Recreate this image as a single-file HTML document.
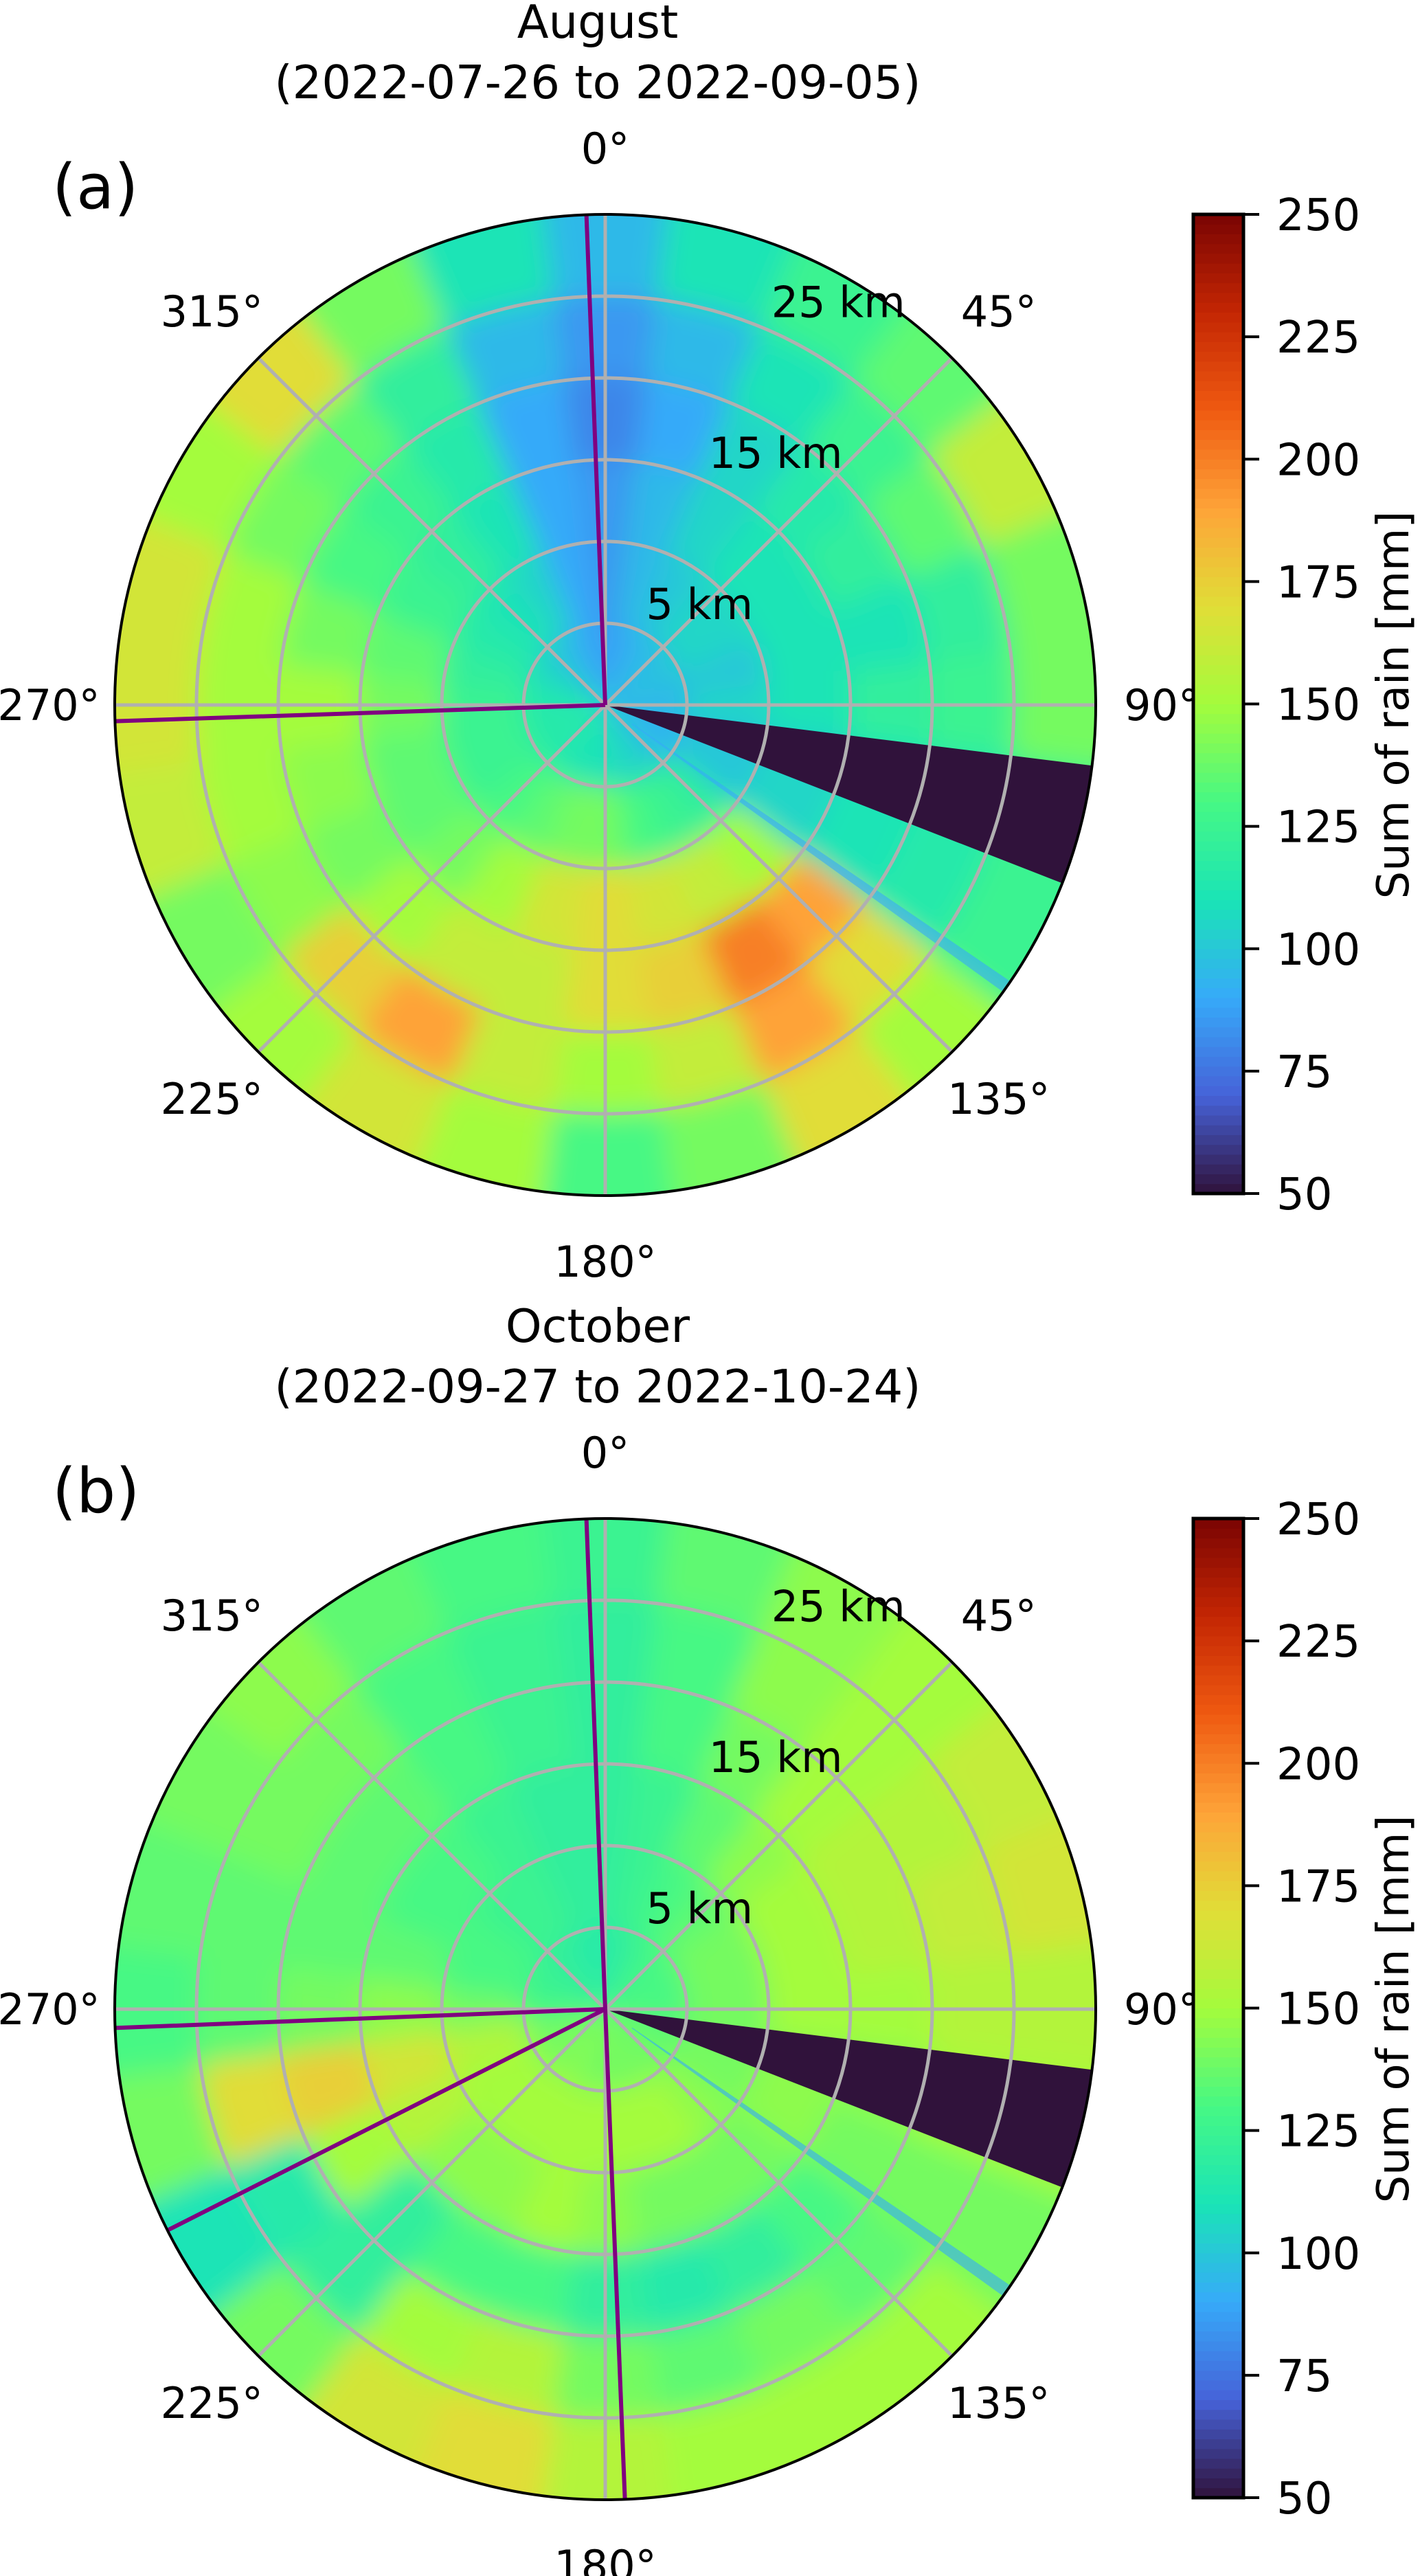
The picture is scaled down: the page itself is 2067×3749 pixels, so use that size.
<!DOCTYPE html>
<html><head><meta charset="utf-8"><style>
html,body{margin:0;padding:0;background:#fff;}
svg{display:block;font-family:"DejaVu Sans","Liberation Sans",sans-serif;}
</style></head><body>
<svg id="fig" width="2067" height="3749" viewBox="0 0 2067 3749" xmlns="http://www.w3.org/2000/svg">
<defs>
<filter id="blur" x="-10%" y="-10%" width="120%" height="120%"><feGaussianBlur stdDeviation="20"/></filter>
<clipPath id="clipA"><circle cx="881" cy="1026" r="714"/></clipPath>
<clipPath id="clipB"><circle cx="881" cy="2924" r="714"/></clipPath>
</defs>
</svg>
<script>
// ---- data ----
const sectorAzimuths = [0,15,30,45,60,75,90,105,120,135,150,165,180,195,210,225,240,255,270,285,300,315,330,345];
const rangeBinsKm = [0,5,10,15,20,25,30];
const rainAugust = [
[85,85,85,80,85,95],[90,95,95,90,95,110],[95,100,105,105,110,125],[95,105,110,115,125,135],
[100,105,110,120,135,160],[95,100,110,110,120,140],[95,105,110,120,125,140],[95,100,105,110,115,125],
[90,100,105,110,115,125],[100,120,150,190,170,150],[105,125,160,200,190,170],[105,130,165,175,160,140],
[110,140,170,170,150,130],[110,140,165,160,160,150],[110,135,150,160,190,165],[115,130,140,150,175,150],
[115,125,135,140,145,140],[115,125,135,145,150,160],[115,125,140,150,150,165],[110,120,135,140,150,165],
[105,115,125,130,140,150],[100,110,120,125,135,170],[95,105,110,115,120,140],[90,90,90,90,95,110]];
const rainOctober = [
[115,120,120,120,120,125],[120,125,125,130,130,135],[125,130,135,140,145,145],[130,135,145,150,150,150],
[130,140,150,155,155,160],[130,140,150,155,160,165],[130,140,150,150,155,155],[135,140,145,145,150,150],
[135,140,145,140,140,140],[140,145,140,130,135,150],[140,150,140,120,140,150],[140,150,140,115,135,150],
[140,150,145,120,140,155],[140,150,150,130,155,170],[145,150,145,130,150,165],[140,150,145,120,120,140],
[140,150,155,150,115,110],[140,155,165,175,170,140],[130,140,145,140,135,130],[125,130,135,135,135,135],
[125,130,130,135,140,140],[120,125,130,135,140,145],[120,125,125,130,130,135],[115,120,120,125,125,130]];
const blockedWedgeAz = [97.1, 111.3];
const blockedValue = 50;
const stripeAz = [124.3, 125.8];
const stripeValue = 90;
const beamLinesAugust = [357.8, 268.1];
const beamLinesOctober = [357.8, 267.8, 243.2, 177.7];
const cbTicks = [50,75,100,125,150,175,200,225,250];
const angleTicks = [0,45,90,135,180,225,270,315];
const ringKm = [5,10,15,20,25];
const rangeLabels = [5,15,25];
const vmin = 50, vmax = 250, maxKm = 30;

// ---- helpers ----
const NS = "http://www.w3.org/2000/svg";
const svg = document.getElementById('fig');
function el(tag, attrs, parent){ const e=document.createElementNS(NS,tag); for(const k in attrs) e.setAttribute(k,attrs[k]); (parent||svg).appendChild(e); return e; }
const TURBO = [[48,18,59],[70,98,216],[54,170,249],[26,228,182],[70,248,132],[164,252,60],[225,221,55],[254,163,56],[239,90,17],[196,38,3],[122,4,3]];
function turbo(v){
  let x=Math.max(0,Math.min(1,(v-vmin)/(vmax-vmin)))*10;
  let i=Math.min(9,Math.floor(x)), f=x-i;
  const a=TURBO[i], b=TURBO[i+1];
  return `rgb(${Math.round(a[0]+(b[0]-a[0])*f)},${Math.round(a[1]+(b[1]-a[1])*f)},${Math.round(a[2]+(b[2]-a[2])*f)})`;
}
const R = 714;
function rScale(km){ return km/maxKm*R; }
function pt(cx,cy,az,r){ const a=az*Math.PI/180; return [cx+r*Math.sin(a), cy-r*Math.cos(a)]; }
function sector(cx,cy,a0,a1,r0,r1){
  const p1=pt(cx,cy,a0,r1),p2=pt(cx,cy,a1,r1),p3=pt(cx,cy,a1,r0),p4=pt(cx,cy,a0,r0);
  const lg=(a1-a0)>180?1:0;
  return `M${p1[0]},${p1[1]} A${r1},${r1} 0 ${lg} 1 ${p2[0]},${p2[1]} L${p3[0]},${p3[1]} A${r0},${r0} 0 ${lg} 0 ${p4[0]},${p4[1]} Z`;
}

function drawPanel(cx, cy, data, beams, clipId, tag, titleLines, letter){
  const g = el('g',{});
  
  
  const t1 = el('text',{x:870,y:cy-971,'font-size':67,'text-anchor':'middle'},g); t1.textContent=titleLines[0];
   
  const t2 = el('text',{x:870,y:cy-883,'font-size':67,'text-anchor':'middle'},g); t2.textContent=titleLines[1];
   
  const lt = el('text',{x:76,y:cy-723,'font-size':90},g); lt.textContent=letter;
   
  const clipG = el('g',{'clip-path':`url(#${clipId})`},g);
  const hm = el('g',{filter:'url(#blur)'},clipG);
   
  const step = 360/sectorAzimuths.length;
  sectorAzimuths.forEach((az,i)=>{
    data[i].forEach((v,j)=>{
      const r0=rScale(rangeBinsKm[j]), r1 = j===data[i].length-1 ? R+60 : rScale(rangeBinsKm[j+1]);
      const p = el('path',{d:sector(cx,cy,az-step/2-0.3,az+step/2+0.3,r0,r1),fill:turbo(v)},hm);
       
    });
  });
  const st = el('path',{d:sector(cx,cy,stripeAz[0],stripeAz[1],rScale(2),R+10),fill:turbo(stripeValue),opacity:0.6},clipG);
   
  const wd = el('path',{d:sector(cx,cy,blockedWedgeAz[0],blockedWedgeAz[1],0.5,R+10),fill:turbo(blockedValue)},clipG);
   
  ringKm.forEach(k=>{
    const c = el('circle',{cx,cy,r:rScale(k),fill:'none',stroke:'#b0b0b0','stroke-width':5},g);
     
  });
  angleTicks.forEach(a=>{
    const p=pt(cx,cy,a,R);
    const l = el('line',{x1:cx,y1:cy,x2:p[0],y2:p[1],stroke:'#b0b0b0','stroke-width':5},g);
     
  });
  beams.forEach(a=>{
    const p=pt(cx,cy,a,R);
    const l = el('line',{x1:cx,y1:cy,x2:p[0],y2:p[1],stroke:'#800080','stroke-width':6},g);
     
  });
  const oc = el('circle',{cx,cy,r:R,fill:'none',stroke:'#000','stroke-width':4},g);
   
  angleTicks.forEach(a=>{
    const p=pt(cx,cy,a,R+96);
    const t=el('text',{x:p[0],y:p[1]+22,'font-size':62,'text-anchor':'middle'},g);
    t.textContent=a+'°';
     
  });
  rangeLabels.forEach(k=>{
    const p=pt(cx,cy,22.5,rScale(k));
    const t=el('text',{x:p[0]+14,y:p[1]-15,'font-size':62,'text-anchor':'start'},g);
    t.textContent=k+' km';
     
  });
  const top=cy-714, bot=cy+711, x0=1737, w=73;
  const cb = el('g',{},g);
   
  const n=100;
  for(let i=0;i<n;i++){
    const v=vmin+(vmax-vmin)*(i+0.5)/n;
    const y=bot-(i+1)*(bot-top)/n;
    el('rect',{x:x0,y:y-0.5,width:w,height:(bot-top)/n+1,fill:turbo(v)},cb);
  }
  el('rect',{x:x0,y:top,width:w,height:bot-top,fill:'none',stroke:'#000','stroke-width':5},cb);
  cbTicks.forEach(v=>{
    const y=bot-(v-vmin)/(vmax-vmin)*(bot-top);
    el('line',{x1:x0+w,y1:y,x2:x0+w+23,y2:y,stroke:'#000','stroke-width':4},cb);
    const t=el('text',{x:1858,y:y+23,'font-size':64},cb);
    t.textContent=v;
     
  });
  const cl=el('text',{x:2050,y:cy,'font-size':64,'text-anchor':'middle',transform:`rotate(-90 2050 ${cy})`},cb);
  cl.textContent='Sum of rain [mm]';
   
}
drawPanel(881,1026,rainAugust,beamLinesAugust,'clipA','a',['August','(2022-07-26 to 2022-09-05)'],'(a)');
drawPanel(881,2924,rainOctober,beamLinesOctober,'clipB','b',['October','(2022-09-27 to 2022-10-24)'],'(b)');
</script>
</body></html>
